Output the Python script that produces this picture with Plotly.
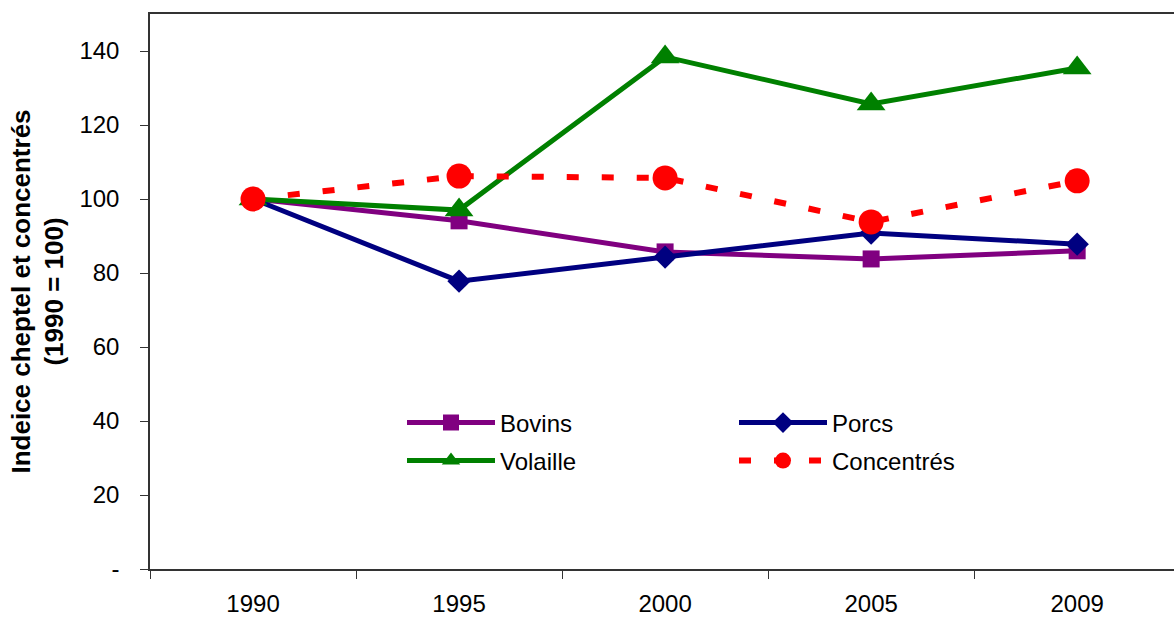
import plotly.graph_objects as go

years = ["1990", "1995", "2000", "2005", "2009"]
bovins = [100, 94.1, 85.7, 83.8, 86.0]
porcs = [100, 77.8, 84.3, 90.8, 87.8]
volaille = [100, 97.0, 138.4, 125.7, 135.4]
concentres = [100, 106.2, 105.7, 93.8, 104.9]
ytick_vals = [0, 20, 40, 60, 80, 100, 120, 140]
ytick_text = ["-", "20", "40", "60", "80", "100", "120", "140"]

FONT = "Liberation Sans, Arial, sans-serif"

fig = go.Figure()
fig.add_trace(go.Scatter(x=years, y=bovins, name="Bovins", mode="lines+markers",
                         line=dict(color="#800080", width=5),
                         marker=dict(symbol="square", size=17, color="#800080"),
                         legend="legend", showlegend=True))
fig.add_trace(go.Scatter(x=years, y=porcs, name="Porcs", mode="lines+markers",
                         line=dict(color="#000080", width=5),
                         marker=dict(symbol="diamond", size=18, color="#000080"),
                         legend="legend2", showlegend=True))
fig.add_trace(go.Scatter(x=years, y=volaille, name="Volaille", mode="lines+markers",
                         line=dict(color="#008000", width=5),
                         marker=dict(symbol="triangle-up", size=25, color="#008000"),
                         legend="legend3", showlegend=True))
fig.add_trace(go.Scatter(x=years, y=concentres, name="Concentrés", mode="lines+markers",
                         line=dict(color="#FF0000", width=6, dash="12px,23px"),
                         marker=dict(symbol="circle", size=25, color="#FF0000"),
                         legend="legend4", showlegend=True))

def leg(x, y):
    return dict(x=x, y=y, xref="paper", yref="paper", xanchor="left", yanchor="middle",
                bgcolor="rgba(0,0,0,0)", font=dict(family=FONT, size=24, color="black"),
                itemwidth=88, borderwidth=0, visible=True)

x1 = (402 - 150) / 1024
x2 = (734 - 150) / 1024
r1 = (569 - 423) / 555
r2 = (569 - 461) / 555

fig.update_layout(
    width=1174, height=617,
    margin=dict(l=150, r=0, t=14, b=48),
    paper_bgcolor="white", plot_bgcolor="white",
    showlegend=True,
    font=dict(family=FONT, size=24, color="black"),
    legend=leg(x1, r1), legend2=leg(x2, r1), legend3=leg(x1, r2), legend4=leg(x2, r2),
    xaxis=dict(type="category", range=[-0.5, 4.47], showline=True, linecolor="#333",
               linewidth=1.5, mirror=True, ticks="outside", ticklen=8, tickcolor="#333",
               tickson="boundaries", showgrid=False, zeroline=False,
               ticklabelstandoff=12,
               tickfont=dict(family=FONT, size=24, color="black")),
    yaxis=dict(range=[0, 150], tickvals=ytick_vals, ticktext=ytick_text,
               showline=True, linecolor="#333", linewidth=1.5, ticks="outside",
               ticklen=8, tickcolor="#333", showgrid=False, zeroline=False,
               ticklabelstandoff=16,
               tickfont=dict(family=FONT, size=24, color="black"),
               title=dict(text="<b>Indeice cheptel et concentrés<br>(1990 = 100)</b>",
                          font=dict(family=FONT, size=26, color="black"), standoff=8)),
)

fig.write_html("out.html")
